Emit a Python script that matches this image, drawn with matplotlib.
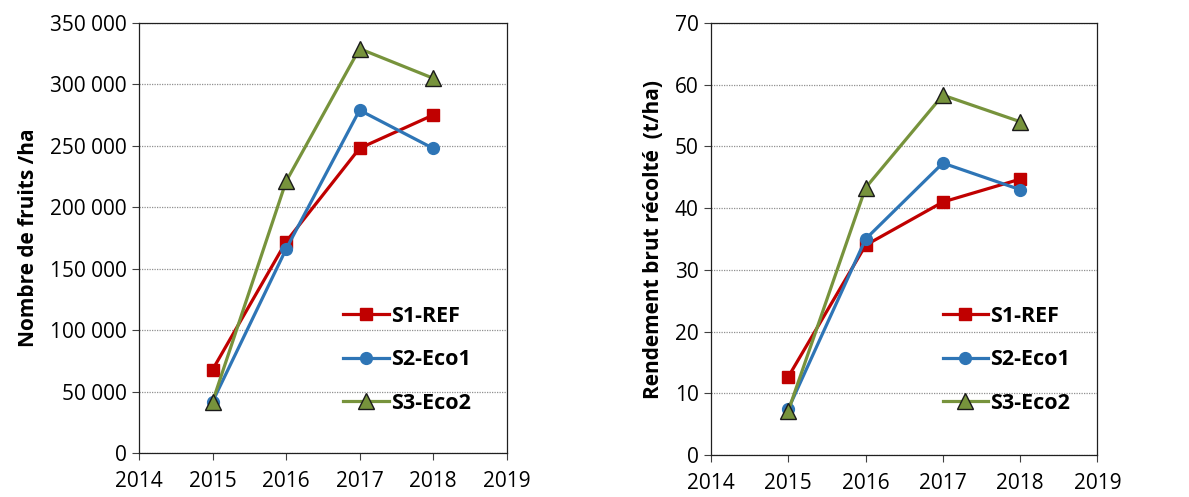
import matplotlib
matplotlib.use("Agg")
import matplotlib.pyplot as plt
from matplotlib.ticker import FuncFormatter

years = [2015, 2016, 2017, 2018]
series_names = ["S1-REF", "S2-Eco1", "S3-Eco2"]
fruits_s1 = [68000, 172000, 248000, 275000]
fruits_s2 = [42000, 166000, 279000, 248000]
fruits_s3 = [42000, 221000, 329000, 305000]
yield_s1 = [12.7, 34.0, 41.0, 44.7]
yield_s2 = [7.5, 35.0, 47.3, 43.0]
yield_s3 = [7.2, 43.3, 58.3, 54.0]
x_ticks = [2014, 2015, 2016, 2017, 2018, 2019]

plt.rcParams['font.family'] = ['Open Sans', 'DejaVu Sans']

fig = plt.figure(figsize=(11.89, 4.97), dpi=100)
ax1 = fig.add_axes([0.117, 0.088, 0.309, 0.866])
ax2 = fig.add_axes([0.598, 0.084, 0.325, 0.870])

styles = [
    dict(color="#C00000", marker="s", markersize=8.5, markerfacecolor="#C00000", markeredgecolor="#C00000"),
    dict(color="#2E75B6", marker="o", markersize=8.5, markerfacecolor="#2E75B6", markeredgecolor="#2E75B6"),
    dict(color="#77933C", marker="^", markersize=12, markerfacecolor="#77933C", markeredgecolor="#1a1a1a", markeredgewidth=1),
]

def setup(ax, data, ylim, ystep, ylabel, fmt, anchor):
    for vals, name, st in zip(data, series_names, styles):
        ax.plot(years, vals, lw=2.3, label=name, **st)
    ax.set_xlim(2014, 2019)
    ax.set_xticks(x_ticks)
    ax.set_ylim(0, ylim)
    ax.set_yticks(list(range(0, ylim + 1, ystep)))
    ax.yaxis.set_major_formatter(FuncFormatter(fmt))
    ax.grid(axis='y', linestyle=(0, (1, 1)), color='#909090', lw=0.9)
    ax.set_axisbelow(True)
    for s in ax.spines.values():
        s.set_color('#202020')
        s.set_linewidth(0.9)
    ax.tick_params(axis='both', labelsize=15, length=5, color='#404040', pad=4)
    ax.tick_params(axis='x', pad=8)
    ax.set_ylabel(ylabel, fontsize=15, fontweight='bold', labelpad=8)
    ax.legend(loc='upper left', bbox_to_anchor=anchor, frameon=False,
              prop={'weight': 'bold', 'size': 15.5}, labelspacing=1.05,
              handlelength=2.1, handletextpad=0.1, borderpad=0, borderaxespad=0)

setup(ax1, [fruits_s1, fruits_s2, fruits_s3], 350000, 50000, "Nombre de fruits /ha",
      lambda v, p: "{:,}".format(int(v)).replace(",", " "), (0.556, 0.343))
setup(ax2, [yield_s1, yield_s2, yield_s3], 70, 10, "Rendement brut récolté  (t/ha)",
      lambda v, p: "{:d}".format(int(v)), (0.60, 0.346))

fig.savefig("out.png", dpi=100)
